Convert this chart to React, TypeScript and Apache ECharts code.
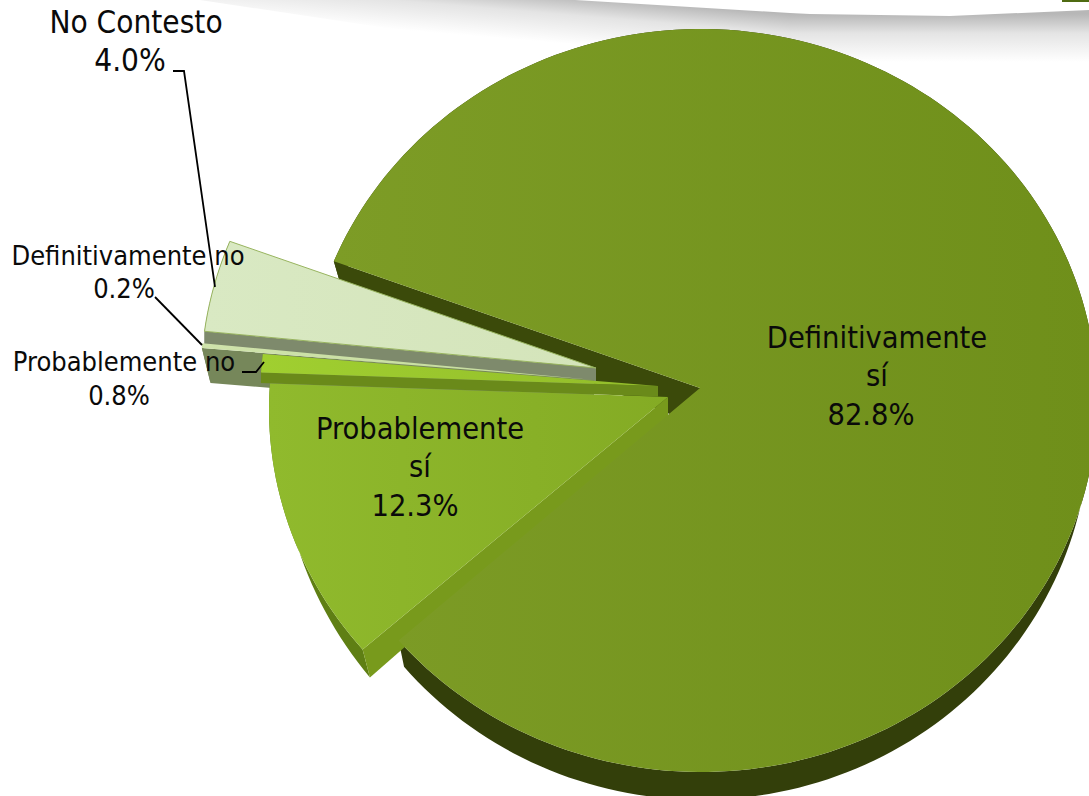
import React, { useEffect, useRef } from "react";
import * as echarts from "echarts";

const categories = ["Definitivamente sí", "Probablemente sí", "Probablemente no", "Definitivamente no", "No Contesto"];
const shares = [82.8, 12.3, 0.8, 0.2, 4.0];

const FONT = "'DejaVu Sans Condensed', Tahoma, 'DejaVu Sans', sans-serif";
const START_ANGLE = 202;
const PIE = { cx: 701, cy: 400.5, rx: 396, ry: 371.5, tipX: 700, tipY: 388 };
const TEXT_COLOR = "#0a0a0a";

const sliceStyles = [
  { dx: 0, dy: 0, tipDx: 0, tipExtra: 14, d0: 20, d1: 0.01, y0: 0, k: 0.018, z: 9,
    top: ["#7d9c26", "#6f8f1a"], rim: "#333f0a", cut: "#3b4a0a", stroke: "none" },
  { dx: -36, dy: 9, tipDx: 4, tipExtra: 4, d0: 16, d1: 0.048, y0: 398, k: 0.024, z: 5,
    top: ["#90ba2d", "#84ab24"], rim: "#5f7f14", cut: "#789a1c", stroke: "none" },
  { dx: -45, dy: -2, tipDx: 3, tipExtra: 0, d0: 10.5, d1: 0, y0: 0, k: 0, z: 4,
    top: ["#a0cf30", "#93bd2a"], rim: "#5f7f16", cut: "#6a8a1a", stroke: "none" },
  { dx: -106, dy: -8, tipDx: 0, tipExtra: 0, d0: 35, d1: 0, y0: 0, k: 0.022, z: 3,
    top: ["#cfe3ab", "#c5dc9c"], rim: "#76875a", cut: "#76875a", stroke: "none" },
  { dx: -104, dy: -20, tipDx: 0, tipExtra: 0, d0: 15, d1: 0, y0: 0, k: 0, z: 2,
    top: ["#d9e9c3", "#d4e4ba"], rim: "#7e8a6c", cut: "#7e8a6c", stroke: "#98b45f" },
];

const labelStyles = [
  { x: 877, y: 337, size: 30.5, lh: 38.5, wrap: true, pctDx: -6 },
  { x: 420, y: 428, size: 30.5, lh: 38.5, wrap: true, pctDx: -5 },
  { x: 124, y: 361, size: 27, lh: 34, wrap: false, pctDx: -5 },
  { x: 128, y: 255, size: 27, lh: 33, wrap: false, pctDx: -4 },
  { x: 136, y: 22, size: 31.3, lh: 38, wrap: false, pctDx: -6 },
];

const leaders: number[][][] = [
  [],
  [],
  [[242, 372], [256, 372], [264, 362]],
  [[155, 297], [202, 345]],
  [[173, 71], [184, 71], [215, 287]],
];

const shadowStops = [
  { offset: 0, color: "#b7b7b7" },
  { offset: 0.4, color: "#e4e4e4" },
  { offset: 1, color: "#ffffff" },
];

function App() {
  const ref = useRef<HTMLDivElement>(null);
  useEffect(() => {
    document.body.style.margin = "0";
    document.body.style.overflow = "hidden";
    const chart = echarts.init(ref.current!, null, { renderer: "svg" });
    const total = shares.reduce((a, b) => a + b, 0);

    const renderItem = (params: any, api: any) => {
      const i = params.dataIndex;
      const value = api.value(0);
      const s = sliceStyles[i];
      const lab = labelStyles[i];
      const before = shares.slice(0, i).reduce((a, b) => a + b, 0);
      const a0 = START_ANGLE + (before / total) * 360;
      const a1 = a0 + (value / total) * 360;

      const arc: number[][] = [];
      const n = Math.max(2, Math.ceil((a1 - a0) / 1.5));
      for (let j = 0; j <= n; j++) {
        const t = ((a0 + ((a1 - a0) * j) / n) * Math.PI) / 180;
        arc.push([PIE.cx + PIE.rx * Math.cos(t) + s.dx, PIE.cy + PIE.ry * Math.sin(t) + s.dy]);
      }
      const tip = [PIE.tipX + s.dx + s.tipDx, PIE.tipY + s.dy];
      const down = (p: number[]) => [
        p[0] + (tip[0] - p[0]) * s.k,
        p[1] + Math.max(0, s.d0 + s.d1 * (p[1] - s.y0)),
      ];
      const tipDown = down(tip);
      tipDown[1] += s.tipExtra;

      const children: any[] = [
        { type: "polygon", z2: i === 0 ? 1 : s.z,
          shape: { points: [...arc, ...arc.map(down).reverse()] },
          style: { fill: s.rim } },
        { type: "polygon", z2: i === 0 ? 1 : s.z,
          shape: { points: [tip, arc[0], down(arc[0]), tipDown] },
          style: { fill: s.cut } },
        { type: "polygon", z2: s.z,
          shape: { points: [tip, ...arc] },
          style: {
            fill: new echarts.graphic.LinearGradient(0, 0, 1, 0, [
              { offset: 0, color: s.top[0] },
              { offset: 1, color: s.top[1] },
            ]),
            stroke: s.stroke,
            lineWidth: s.stroke === "none" ? 0 : 1,
          } },
      ];

      const pct = `${value.toFixed(1)}%`;
      const name = categories[i];
      const words = name.split(" ");
      const lines = lab.wrap ? [words[0], words.slice(1).join(" ")] : [name];
      const textBase = {
        fontFamily: FONT, fontSize: lab.size, fill: TEXT_COLOR,
        align: "center", verticalAlign: "middle",
      };
      lines.forEach((line, li) => {
        children.push({ type: "text", z2: 30, x: lab.x, y: lab.y + li * lab.lh,
          style: { ...textBase, text: line } });
      });
      children.push({ type: "text", z2: 30, x: lab.x + lab.pctDx, y: lab.y + lines.length * lab.lh,
        style: { ...textBase, text: pct } });

      if (leaders[i].length) {
        children.push({ type: "polyline", z2: 20, shape: { points: leaders[i] },
          style: { fill: "none", stroke: "#000", lineWidth: 1.8 } });
      }
      return { type: "group", children };
    };

    chart.setOption({
      animation: false,
      backgroundColor: "#ffffff",
      graphic: [
        { type: "polygon", z: 0,
          shape: { points: [[200, 0], [575, 0], [790, 13], [790, 70], [400, 30]] },
          style: { fill: new echarts.graphic.LinearGradient(790, 14, 786, 62, shadowStops, true) } },
        { type: "polygon", z: 0,
          shape: { points: [[790, 13], [810, 14], [950, 16], [1089, 10], [1089, 70], [790, 70]] },
          style: { fill: new echarts.graphic.LinearGradient(0, 14, 0, 62, shadowStops, true) } },
        { type: "rect", z: 0, shape: { x: 1062, y: 0, width: 27, height: 2 }, style: { fill: "#4f6b12" } },
      ],
      series: [
        {
          type: "custom",
          coordinateSystem: "none",
          z: 2,
          silent: true,
          renderItem,
          data: categories.map((name, i) => ({ name, value: [shares[i]] })),
        },
      ],
    });
    return () => chart.dispose();
  }, []);
  return <div ref={ref} style={{ width: 1089, height: 796 }} />;
}

export default App;
